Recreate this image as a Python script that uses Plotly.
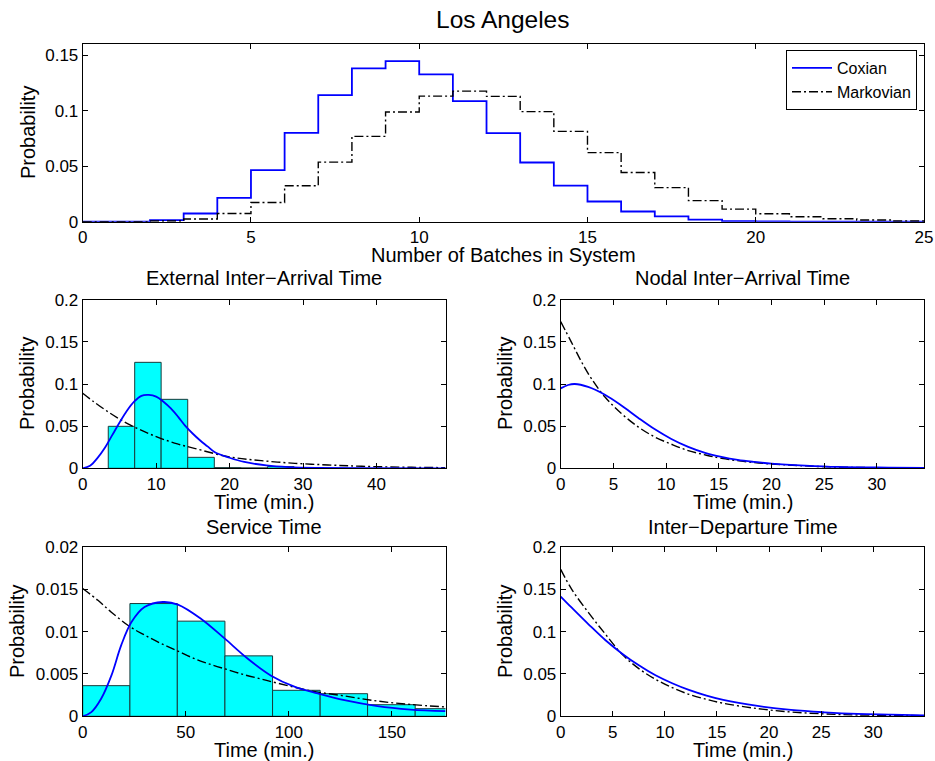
import plotly.graph_objects as go

# ---------------- data ----------------
batches = list(range(26))
coxian_pmf = [0, 0, 0.0015, 0.0074, 0.0214, 0.0464, 0.080, 0.114, 0.138, 0.1446,
              0.1327, 0.1086, 0.0798, 0.0533, 0.0324, 0.0182, 0.0092, 0.0048, 0.0018,
              0.0006, 0.0002, 0.0001, 0, 0, 0, 0]
markov_pmf = [0, 0.0001, 0.0006, 0.0024, 0.0074, 0.0173, 0.0324, 0.0536, 0.0768, 0.0988,
              0.1131, 0.1176, 0.1128, 0.0991, 0.0813, 0.0622, 0.0443, 0.0307, 0.0190,
              0.0113, 0.0071, 0.0045, 0.0027, 0.0015, 0.0006, 0.0003]

# External inter-arrival time
ext_edges = [3.48, 7.08, 10.68, 14.30, 17.92, 21.54, 25.16, 28.78]
ext_hist = [0.0498, 0.1257, 0.0818, 0.0130, 0.0008, 0.0005, 0.0020]
ext_t_cox = [0, 1, 2, 3, 4, 5, 6, 7, 8, 9, 10, 11, 12, 13, 14, 15, 16, 17, 18, 20,
             22, 25, 28, 32, 38, 49.4]
ext_p_cox = [0, 0.003, 0.012, 0.024, 0.039, 0.054, 0.068, 0.079, 0.086, 0.087, 0.085,
             0.079, 0.071, 0.061, 0.050, 0.041, 0.033, 0.026, 0.019, 0.0125, 0.0075,
             0.0035, 0.0015, 0.0005, 0.0001, 0]
ext_t_mkv = [0, 1.5, 3.8, 6.1, 8.4, 10.6, 12.9, 15.2, 19.8, 24.3, 28.9, 33.4, 38, 44.8, 49.4]
ext_p_mkv = [0.089, 0.079, 0.065, 0.053, 0.0435, 0.0356, 0.0289, 0.0237, 0.0138, 0.0091,
             0.0059, 0.0040, 0.0024, 0.0012, 0.0008]

# Nodal inter-arrival time
nod_t_cox = [0, 0.7, 1.33, 2.6, 4.2, 5.76, 7.34, 8.9, 10.5, 12.1, 13.7, 15.25, 16.8,
             18.4, 20, 23.2, 26.3, 31.1, 34.5]
nod_p_cox = [0.0948, 0.0988, 0.100, 0.0965, 0.0872, 0.0745, 0.0600, 0.0465, 0.0348,
             0.0254, 0.0183, 0.0135, 0.0099, 0.0075, 0.0056, 0.0032, 0.0016, 0.0008, 0.0004]
nod_t_mkv = [0, 1, 1.96, 2.9, 4.18, 5.76, 7.34, 8.9, 10.5, 12.1, 13.7, 15.25, 18.4,
             21.6, 24.7, 29.5, 34.5]
nod_p_mkv = [0.174, 0.150, 0.1266, 0.1067, 0.0849, 0.065, 0.0492, 0.0373, 0.0286,
             0.021, 0.0159, 0.0119, 0.0067, 0.004, 0.002, 0.0008, 0.0004]

# Service time
svc_edges = [0, 22.9, 45.9, 69.0, 92.1, 115.2, 138.2, 161.3, 184.4]
svc_hist = [0.00362, 0.01332, 0.01124, 0.00714, 0.00307, 0.00267, 0.00137, 0.0009]
svc_t_cox = [0, 4.2, 9.0, 13.9, 18.7, 23.6, 30, 38.9, 46.2, 57.5, 68.8, 80.1, 91.4,
             102.7, 114, 127, 143, 159, 176]
svc_p_cox = [0, 0.0005, 0.0021, 0.0048, 0.0084, 0.0111, 0.0129, 0.0135, 0.0132, 0.0115,
             0.0092, 0.0068, 0.0048, 0.0035, 0.0027, 0.0019, 0.0012, 0.0008, 0.0006]
svc_t_mkv = [0, 7.4, 13.9, 22.8, 30, 38, 46.2, 54.3, 62.4, 70.4, 78.5, 86.6, 94.7,
             110.8, 127, 143, 159, 176]
svc_p_mkv = [0.0151, 0.0137, 0.0123, 0.0106, 0.0096, 0.0086, 0.0077, 0.0068, 0.0061,
             0.0055, 0.0049, 0.0044, 0.0039, 0.0030, 0.0024, 0.0018, 0.0014, 0.0011]

# Inter-departure time
dep_t_cox = [0, 1.06, 2.67, 4.3, 5.9, 7.5, 9.1, 10.7, 12.3, 14.0, 15.6, 18.9, 22.1,
             25.3, 28.5, 31.7, 34.9]
dep_p_cox = [0.1415, 0.1283, 0.1087, 0.0898, 0.074, 0.0602, 0.0484, 0.039, 0.0311,
             0.0244, 0.0193, 0.0122, 0.0075, 0.0047, 0.0028, 0.002, 0.0012]
dep_t_mkv = [0, 1.06, 2.67, 4.3, 5.9, 7.5, 9.1, 10.7, 12.3, 14.0, 15.6, 18.9, 22.1,
             25.3, 28.5, 34.9]
dep_p_mkv = [0.1736, 0.150, 0.1224, 0.0969, 0.0732, 0.0563, 0.0437, 0.0339, 0.026,
             0.0201, 0.0154, 0.0091, 0.0051, 0.0028, 0.0016, 0.0008]

# ---------------- styling ----------------
W, H = 935, 761
FONT = "Liberation Sans, Arial, Helvetica, sans-serif"
BLUE = "#0000ff"
DASHDOT = "9px,3px,2px,3px"


def px_x(p):
    return p / W


def px_y(p):
    return 1 - p / H


fig = go.Figure()

# top: number of batches
fig.add_trace(go.Scatter(x=batches, y=coxian_pmf, mode="lines", line_shape="hv",
                         line=dict(color=BLUE, width=1.8), name="Coxian",
                         xaxis="x", yaxis="y"))
fig.add_trace(go.Scatter(x=batches, y=markov_pmf, mode="lines", line_shape="hv",
                         line=dict(color="black", width=1.4, dash=DASHDOT), name="Markovian",
                         xaxis="x", yaxis="y"))


def add_hist(edges, heights, xa, ya):
    centers = [(edges[i] + edges[i + 1]) / 2 for i in range(len(heights))]
    widths = [edges[i + 1] - edges[i] for i in range(len(heights))]
    fig.add_trace(go.Bar(x=centers, y=heights, width=widths,
                         marker=dict(color="#00ffff", line=dict(color="#1a3a3a", width=1)),
                         showlegend=False, xaxis=xa, yaxis=ya))


def add_curves(tc, pc, tm, pm, xa, ya):
    fig.add_trace(go.Scatter(x=tm, y=pm, mode="lines", line_shape="spline",
                             line=dict(color="black", width=1.4, dash=DASHDOT),
                             showlegend=False, xaxis=xa, yaxis=ya))
    fig.add_trace(go.Scatter(x=tc, y=pc, mode="lines", line_shape="spline",
                             line=dict(color=BLUE, width=1.8),
                             showlegend=False, xaxis=xa, yaxis=ya))


add_hist(ext_edges, ext_hist, "x2", "y2")
add_curves(ext_t_cox, ext_p_cox, ext_t_mkv, ext_p_mkv, "x2", "y2")
add_curves(nod_t_cox, nod_p_cox, nod_t_mkv, nod_p_mkv, "x3", "y3")
add_hist(svc_edges, svc_hist, "x4", "y4")
add_curves(svc_t_cox, svc_p_cox, svc_t_mkv, svc_p_mkv, "x4", "y4")
add_curves(dep_t_cox, dep_p_cox, dep_t_mkv, dep_p_mkv, "x5", "y5")


def ax(domain, rng, dtick, anchor):
    return dict(domain=domain, range=rng, dtick=dtick, tick0=0, anchor=anchor,
                showline=True, linecolor="black", linewidth=1, mirror="ticks",
                ticks="inside", ticklen=5, tickcolor="black", showgrid=False,
                zeroline=False, automargin=False,
                tickfont=dict(size=17, color="black", family=FONT))


top_y = [px_y(221.7), px_y(44)]
mid_y = [px_y(468.3), px_y(299.7)]
bot_y = [px_y(716.3), px_y(547)]
full_x = [px_x(82.7), px_x(924)]
left_x = [px_x(82.7), px_x(445.5)]
right_x = [px_x(560.7), px_x(924.3)]

layout = dict(
    width=W, height=H, margin=dict(l=0, r=0, t=0, b=0, pad=0, autoexpand=False),
    paper_bgcolor="white", plot_bgcolor="white",
    font=dict(family=FONT, color="black", size=17),
    bargap=0, barmode="overlay",
    xaxis=ax(full_x, [0, 25], 5, "y"),
    yaxis=ax(top_y, [0, 0.16], 0.05, "x"),
    xaxis2=ax(left_x, [0, 49.4], 10, "y2"),
    yaxis2=ax(mid_y, [0, 0.2], 0.05, "x2"),
    xaxis3=ax(right_x, [0, 34.5], 5, "y3"),
    yaxis3=ax(mid_y, [0, 0.2], 0.05, "x3"),
    xaxis4=ax(left_x, [0, 176], 50, "y4"),
    yaxis4=ax(bot_y, [0, 0.02], 0.005, "x4"),
    xaxis5=ax(right_x, [0, 34.9], 5, "y5"),
    yaxis5=ax(bot_y, [0, 0.2], 0.05, "x5"),
    legend=dict(x=px_x(917), y=px_y(50), xanchor="right", yanchor="top",
                bgcolor="white", bordercolor="black", borderwidth=1,
                font=dict(size=16, family=FONT, color="black"),
                itemwidth=40, tracegroupgap=0),
    showlegend=True,
)
fig.update_layout(**layout)

ann = []


def text(t, x, y, size=20, angle=0):
    ann.append(dict(text=t, x=px_x(x), y=px_y(y), xref="paper", yref="paper",
                    showarrow=False, xanchor="center", yanchor="middle",
                    textangle=angle, font=dict(size=size, family=FONT, color="black")))


text("Los Angeles", 503, 19, size=24.5)
text("Number of Batches in System", 503, 255)
text("Probability", 28, 133, angle=-90)
text("External Inter\u2212Arrival Time", 264, 278)
text("Nodal Inter\u2212Arrival Time", 742.5, 278)
text("Probability", 27, 384, angle=-90)
text("Probability", 505, 384, angle=-90)
text("Time (min.)", 264, 502)
text("Time (min.)", 742.5, 502)
text("Service Time", 264, 527)
text("Inter\u2212Departure Time", 742.5, 527)
text("Probability", 17, 632, angle=-90)
text("Probability", 505, 632, angle=-90)
text("Time (min.)", 264, 750)
text("Time (min.)", 742.5, 750)

fig.update_layout(annotations=ann)
fig.write_html("out.html",
               config={"displayModeBar": False, "staticPlot": True},
               post_script="document.body.style.margin='0';"
                           "document.body.style.overflow='hidden';")
